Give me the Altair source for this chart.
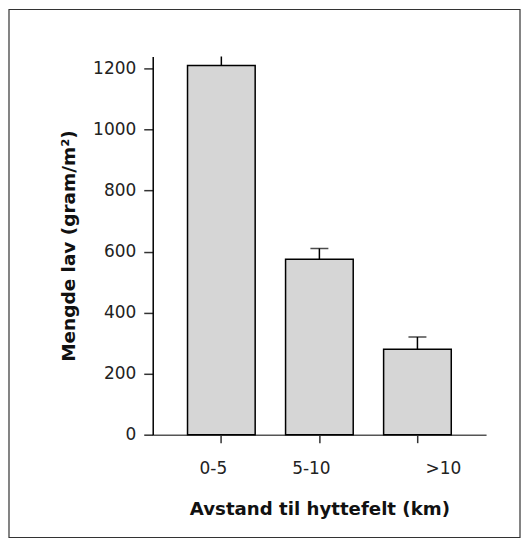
import altair as alt
import pandas as pd

categories = ["0-5", "5-10", ">10"]
means = [1210, 575, 280]
err_tops = [1245, 610, 320]

df = pd.DataFrame({"cat": categories, "mean": means, "err": err_tops})

FONT = "DejaVu Sans"

xenc = alt.X(
    "cat:N",
    sort=categories,
    scale=alt.Scale(paddingInner=0.31, paddingOuter=0.355),
    axis=alt.Axis(
        title="Avstand til hyttefelt (km)",
        labelAngle=0,
        tickSize=8,
        labelPadding=18,
        titlePadding=24,
        titleFontSize=18.2,
        labelOffset={"condition": {"test": "datum.value == '>10'", "value": 26}, "value": -8},
        domainColor="#555555",
        tickColor="#333333",
    ),
)
yscale = alt.Scale(domain=[0, 1240], nice=False, zero=True)

bars = alt.Chart(df).mark_bar(
    fill="#d6d6d6", stroke="#000000", strokeWidth=1.5
).encode(
    x=xenc,
    y=alt.Y(
        "mean:Q",
        scale=yscale,
        axis=alt.Axis(
            title="Mengde lav (gram/m²)",
            values=[0, 200, 400, 600, 800, 1000, 1200],
            format="d",
            tickSize=9,
            labelPadding=8,
            titlePadding=14,
            titleFontSize=18.5,
            domainColor="#000000",
            tickColor="#333333",
        ),
    ),
)

err_line = alt.Chart(df).mark_rule(color="#000000", strokeWidth=1.5, clip=True).encode(
    x=alt.X("cat:N", sort=categories),
    y=alt.Y("mean:Q", scale=yscale),
    y2="err:Q",
)

err_cap = alt.Chart(df).mark_tick(
    color="#000000", thickness=1.5, size=18, orient="horizontal", clip=True
).encode(
    x=alt.X("cat:N", sort=categories),
    y=alt.Y("err:Q", scale=yscale),
)

frame = alt.Chart(alt.Data(values=[{}])).mark_rect(
    fill=None, stroke="#333333", strokeWidth=1.2
).encode(
    x=alt.value(-144), x2=alt.value(368), y=alt.value(-47), y2=alt.value(482)
)

chart = alt.layer(frame, bars, err_line, err_cap).properties(
    width=334, height=379, padding=0
).configure_view(stroke=None).configure_axis(
    grid=False,
    labelFont=FONT,
    labelFontSize=17,
    labelColor="#222222",
    titleFont=FONT,
    titleFontWeight="bold",
    titleColor="#111111",
    domainWidth=1.5,
    tickWidth=1.5,
)

chart.save("out.html", embed_options={"renderer": "svg", "actions": False})
